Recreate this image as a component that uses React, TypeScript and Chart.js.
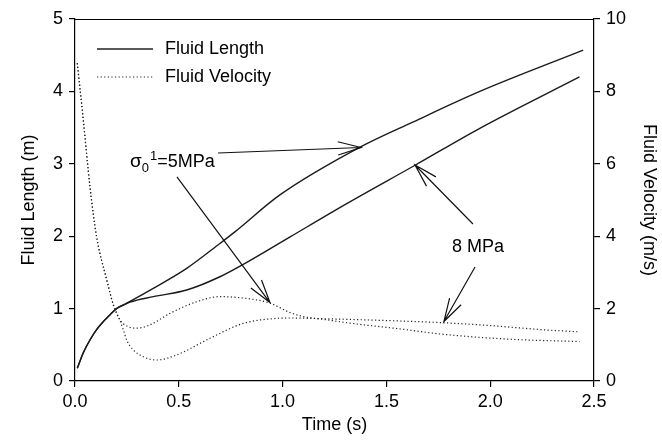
import { useEffect, useRef } from 'react';
import { Chart, registerables } from 'chart.js';

Chart.register(...registerables);

// ---- data ----
const lengthTime5 = [0.011, 0.04, 0.072, 0.104, 0.136, 0.17, 0.2, 0.235, 0.265, 0.377, 0.538, 0.698, 0.77, 0.987, 1.373, 1.63, 1.95, 2.448];
const length5 = [0.175, 0.39, 0.566, 0.71, 0.82, 0.92, 1.0, 1.055, 1.1, 1.28, 1.556, 1.9, 2.06, 2.57, 3.23, 3.58, 4.0, 4.57];

const lengthTime8 = [0.011, 0.04, 0.072, 0.104, 0.136, 0.17, 0.2, 0.235, 0.265, 0.377, 0.538, 0.698, 0.859, 1.036, 1.309, 1.638, 1.95, 2.43];
const length8 = [0.175, 0.39, 0.566, 0.71, 0.82, 0.92, 1.0, 1.05, 1.09, 1.165, 1.257, 1.44, 1.69, 1.99, 2.45, 2.98, 3.49, 4.2];

const velTime5 = [0.011, 0.04, 0.072, 0.104, 0.153, 0.185, 0.215, 0.257, 0.297, 0.361, 0.458, 0.586, 0.698, 0.827, 0.94, 1.036, 1.1, 1.2, 1.35, 1.55, 1.774, 2.11, 2.43];
const vel5 = [8.78, 7.21, 5.37, 3.99, 2.79, 2.1, 1.7, 1.5, 1.46, 1.55, 1.87, 2.19, 2.33, 2.28, 2.15, 1.89, 1.78, 1.7, 1.58, 1.45, 1.29, 1.15, 1.09];

const velTime8 = [0.011, 0.04, 0.072, 0.104, 0.153, 0.185, 0.215, 0.233, 0.249, 0.281, 0.329, 0.393, 0.49, 0.65, 0.81, 0.97, 1.036, 1.2, 1.5, 1.774, 2.0, 2.27, 2.42];
const vel8 = [8.78, 7.21, 5.37, 3.99, 2.79, 2.1, 1.7, 1.41, 1.13, 0.86, 0.67, 0.58, 0.72, 1.18, 1.59, 1.73, 1.74, 1.72, 1.67, 1.61, 1.53, 1.41, 1.36];

const timeTicks = [0, 0.5, 1.0, 1.5, 2.0, 2.5];
const lengthTicks = [0, 1, 2, 3, 4, 5];
const velocityTicks = [0, 2, 4, 6, 8, 10];

const legendLabels = ['Fluid Length', 'Fluid Velocity'];
const axisTitles = { x: 'Time (s)', y: 'Fluid Length (m)', y2: 'Fluid Velocity (m/s)' };

// annotation arrows in data coordinates (time, length)
const arrowFrom = [[0.689, 3.149], [0.491, 2.818], [1.917, 2.168], [1.927, 1.575]];
const arrowTo = [[1.378, 3.225], [0.939, 1.084], [1.638, 2.983], [1.777, 0.822]];
const sigmaLabelAt = [0.265, 2.956];
const eightLabelAt = [1.816, 1.782];
const eightLabel = '8 MPa';

const FONT = '"Liberation Sans", Arial, Helvetica, sans-serif';
const FS = 18;

const pts = (xs: number[], ys: number[]) => xs.map((x, i) => ({ x, y: ys[i] }));

const overlay = {
  id: 'overlay',
  afterDraw(chart: any) {
    const { ctx, chartArea, scales } = chart;
    const sx = scales.x;
    const sy = scales.y;
    ctx.save();
    // top border
    ctx.strokeStyle = '#000';
    ctx.lineWidth = 1.2;
    ctx.beginPath();
    ctx.moveTo(chartArea.left, chartArea.top + 0.5);
    ctx.lineTo(chartArea.right, chartArea.top + 0.5);
    ctx.stroke();

    // legend
    const lx = chartArea.left + 22;
    const ly1 = chartArea.top + 30;
    const ly2 = chartArea.top + 58;
    ctx.strokeStyle = '#222';
    ctx.lineWidth = 1.4;
    ctx.beginPath();
    ctx.moveTo(lx, ly1);
    ctx.lineTo(lx + 56, ly1);
    ctx.stroke();
    ctx.setLineDash([1.2, 2.4]);
    ctx.lineWidth = 1.2;
    ctx.beginPath();
    ctx.moveTo(lx, ly2);
    ctx.lineTo(lx + 56, ly2);
    ctx.stroke();
    ctx.setLineDash([]);
    ctx.fillStyle = '#000';
    ctx.font = `${FS}px ${FONT}`;
    ctx.textBaseline = 'middle';
    ctx.textAlign = 'left';
    ctx.fillText(legendLabels[0], lx + 68, ly1);
    ctx.fillText(legendLabels[1], lx + 68, ly2);

    // arrows
    ctx.strokeStyle = '#111';
    ctx.lineWidth = 1.2;
    for (let i = 0; i < arrowFrom.length; i++) {
      const x0 = sx.getPixelForValue(arrowFrom[i][0]);
      const y0 = sy.getPixelForValue(arrowFrom[i][1]);
      const x1 = sx.getPixelForValue(arrowTo[i][0]);
      const y1 = sy.getPixelForValue(arrowTo[i][1]);
      ctx.beginPath();
      ctx.moveTo(x0, y0);
      ctx.lineTo(x1, y1);
      const ang = Math.atan2(y0 - y1, x0 - x1);
      const L = 24;
      const h = (16 * Math.PI) / 180;
      ctx.moveTo(x1 + L * Math.cos(ang + h), y1 + L * Math.sin(ang + h));
      ctx.lineTo(x1, y1);
      ctx.lineTo(x1 + L * Math.cos(ang - h), y1 + L * Math.sin(ang - h));
      ctx.stroke();
    }

    // sigma label
    ctx.textBaseline = 'alphabetic';
    let tx = sx.getPixelForValue(sigmaLabelAt[0]);
    const ty = sy.getPixelForValue(sigmaLabelAt[1]);
    ctx.font = `${FS + 1}px ${FONT}`;
    ctx.fillText('σ', tx, ty);
    tx += ctx.measureText('σ').width;
    ctx.font = `${FS - 5}px ${FONT}`;
    ctx.fillText('0', tx, ty + 5);
    tx += ctx.measureText('0').width + 1;
    ctx.fillText('1', tx, ty - 7);
    tx += ctx.measureText('1').width;
    ctx.font = `${FS}px ${FONT}`;
    ctx.fillText('=5MPa', tx, ty);

    // 8 MPa label
    ctx.fillText(eightLabel, sx.getPixelForValue(eightLabelAt[0]), sy.getPixelForValue(eightLabelAt[1]));
    ctx.restore();
  },
};

export default function App() {
  const ref = useRef<HTMLCanvasElement>(null);
  useEffect(() => {
    if (!ref.current) return;
    const solid = { borderColor: '#1a1a1a', borderWidth: 1.4, pointRadius: 0, fill: false, cubicInterpolationMode: 'monotone' as const };
    const dotted = { borderColor: '#222', borderWidth: 1.2, borderDash: [1.2, 2.4], pointRadius: 0, fill: false, cubicInterpolationMode: 'monotone' as const };
    const tickFont = { family: FONT, size: FS };
    const grid = { display: true, drawOnChartArea: false, drawTicks: true, tickLength: 6, color: '#000', lineWidth: 1.2 };
    const border = { display: true, color: '#000', width: 1.2 };
    const chart = new Chart(ref.current, {
      type: 'line',
      data: {
        datasets: [
          { label: '5 MPa length', data: pts(lengthTime5, length5), yAxisID: 'y', ...solid },
          { label: '8 MPa length', data: pts(lengthTime8, length8), yAxisID: 'y', ...solid },
          { label: '5 MPa velocity', data: pts(velTime5, vel5), yAxisID: 'y2', ...dotted },
          { label: '8 MPa velocity', data: pts(velTime8, vel8), yAxisID: 'y2', ...dotted },
        ],
      },
      options: {
        animation: false,
        responsive: false,
        layout: { padding: { top: 19, left: 0, right: 0, bottom: 0 } },
        plugins: { legend: { display: false }, tooltip: { enabled: false } },
        scales: {
          x: {
            type: 'linear', position: 'bottom', min: 0, max: 2.5,
            afterBuildTicks: (s: any) => { s.ticks = timeTicks.map((v) => ({ value: v })); },
            afterFit: (s: any) => { s.height = 61; },
            ticks: { color: '#000', font: tickFont, padding: 4, maxRotation: 0, callback: (v: any) => Number(v).toFixed(1) },
            grid, border,
            title: { display: true, text: axisTitles.x, color: '#000', font: tickFont, padding: { top: 0, bottom: 6 } },
          },
          y: {
            type: 'linear', position: 'left', min: 0, max: 5,
            afterBuildTicks: (s: any) => { s.ticks = lengthTicks.map((v) => ({ value: v })); },
            afterFit: (s: any) => { s.width = 75; },
            ticks: { color: '#000', font: tickFont, padding: 6 },
            grid, border,
            title: { display: true, text: axisTitles.y, color: '#000', font: tickFont, padding: { top: 18, bottom: 0 } },
          },
          y2: {
            type: 'linear', position: 'right', min: 0, max: 10,
            afterBuildTicks: (s: any) => { s.ticks = velocityTicks.map((v) => ({ value: v })); },
            afterFit: (s: any) => { s.width = 68; },
            ticks: { color: '#000', font: tickFont, padding: 6 },
            grid, border,
            title: { display: true, text: axisTitles.y2, color: '#000', font: tickFont, padding: { top: 2, bottom: 0 } },
          },
        },
      },
      plugins: [overlay],
    } as any);
    return () => chart.destroy();
  }, []);
  return (
    <div style={{ position: 'absolute', left: 0, top: 0, width: 662, height: 442, background: '#fff' }}>
      <canvas ref={ref} width={662} height={442} style={{ width: 662, height: 442, display: 'block' }} />
    </div>
  );
}
